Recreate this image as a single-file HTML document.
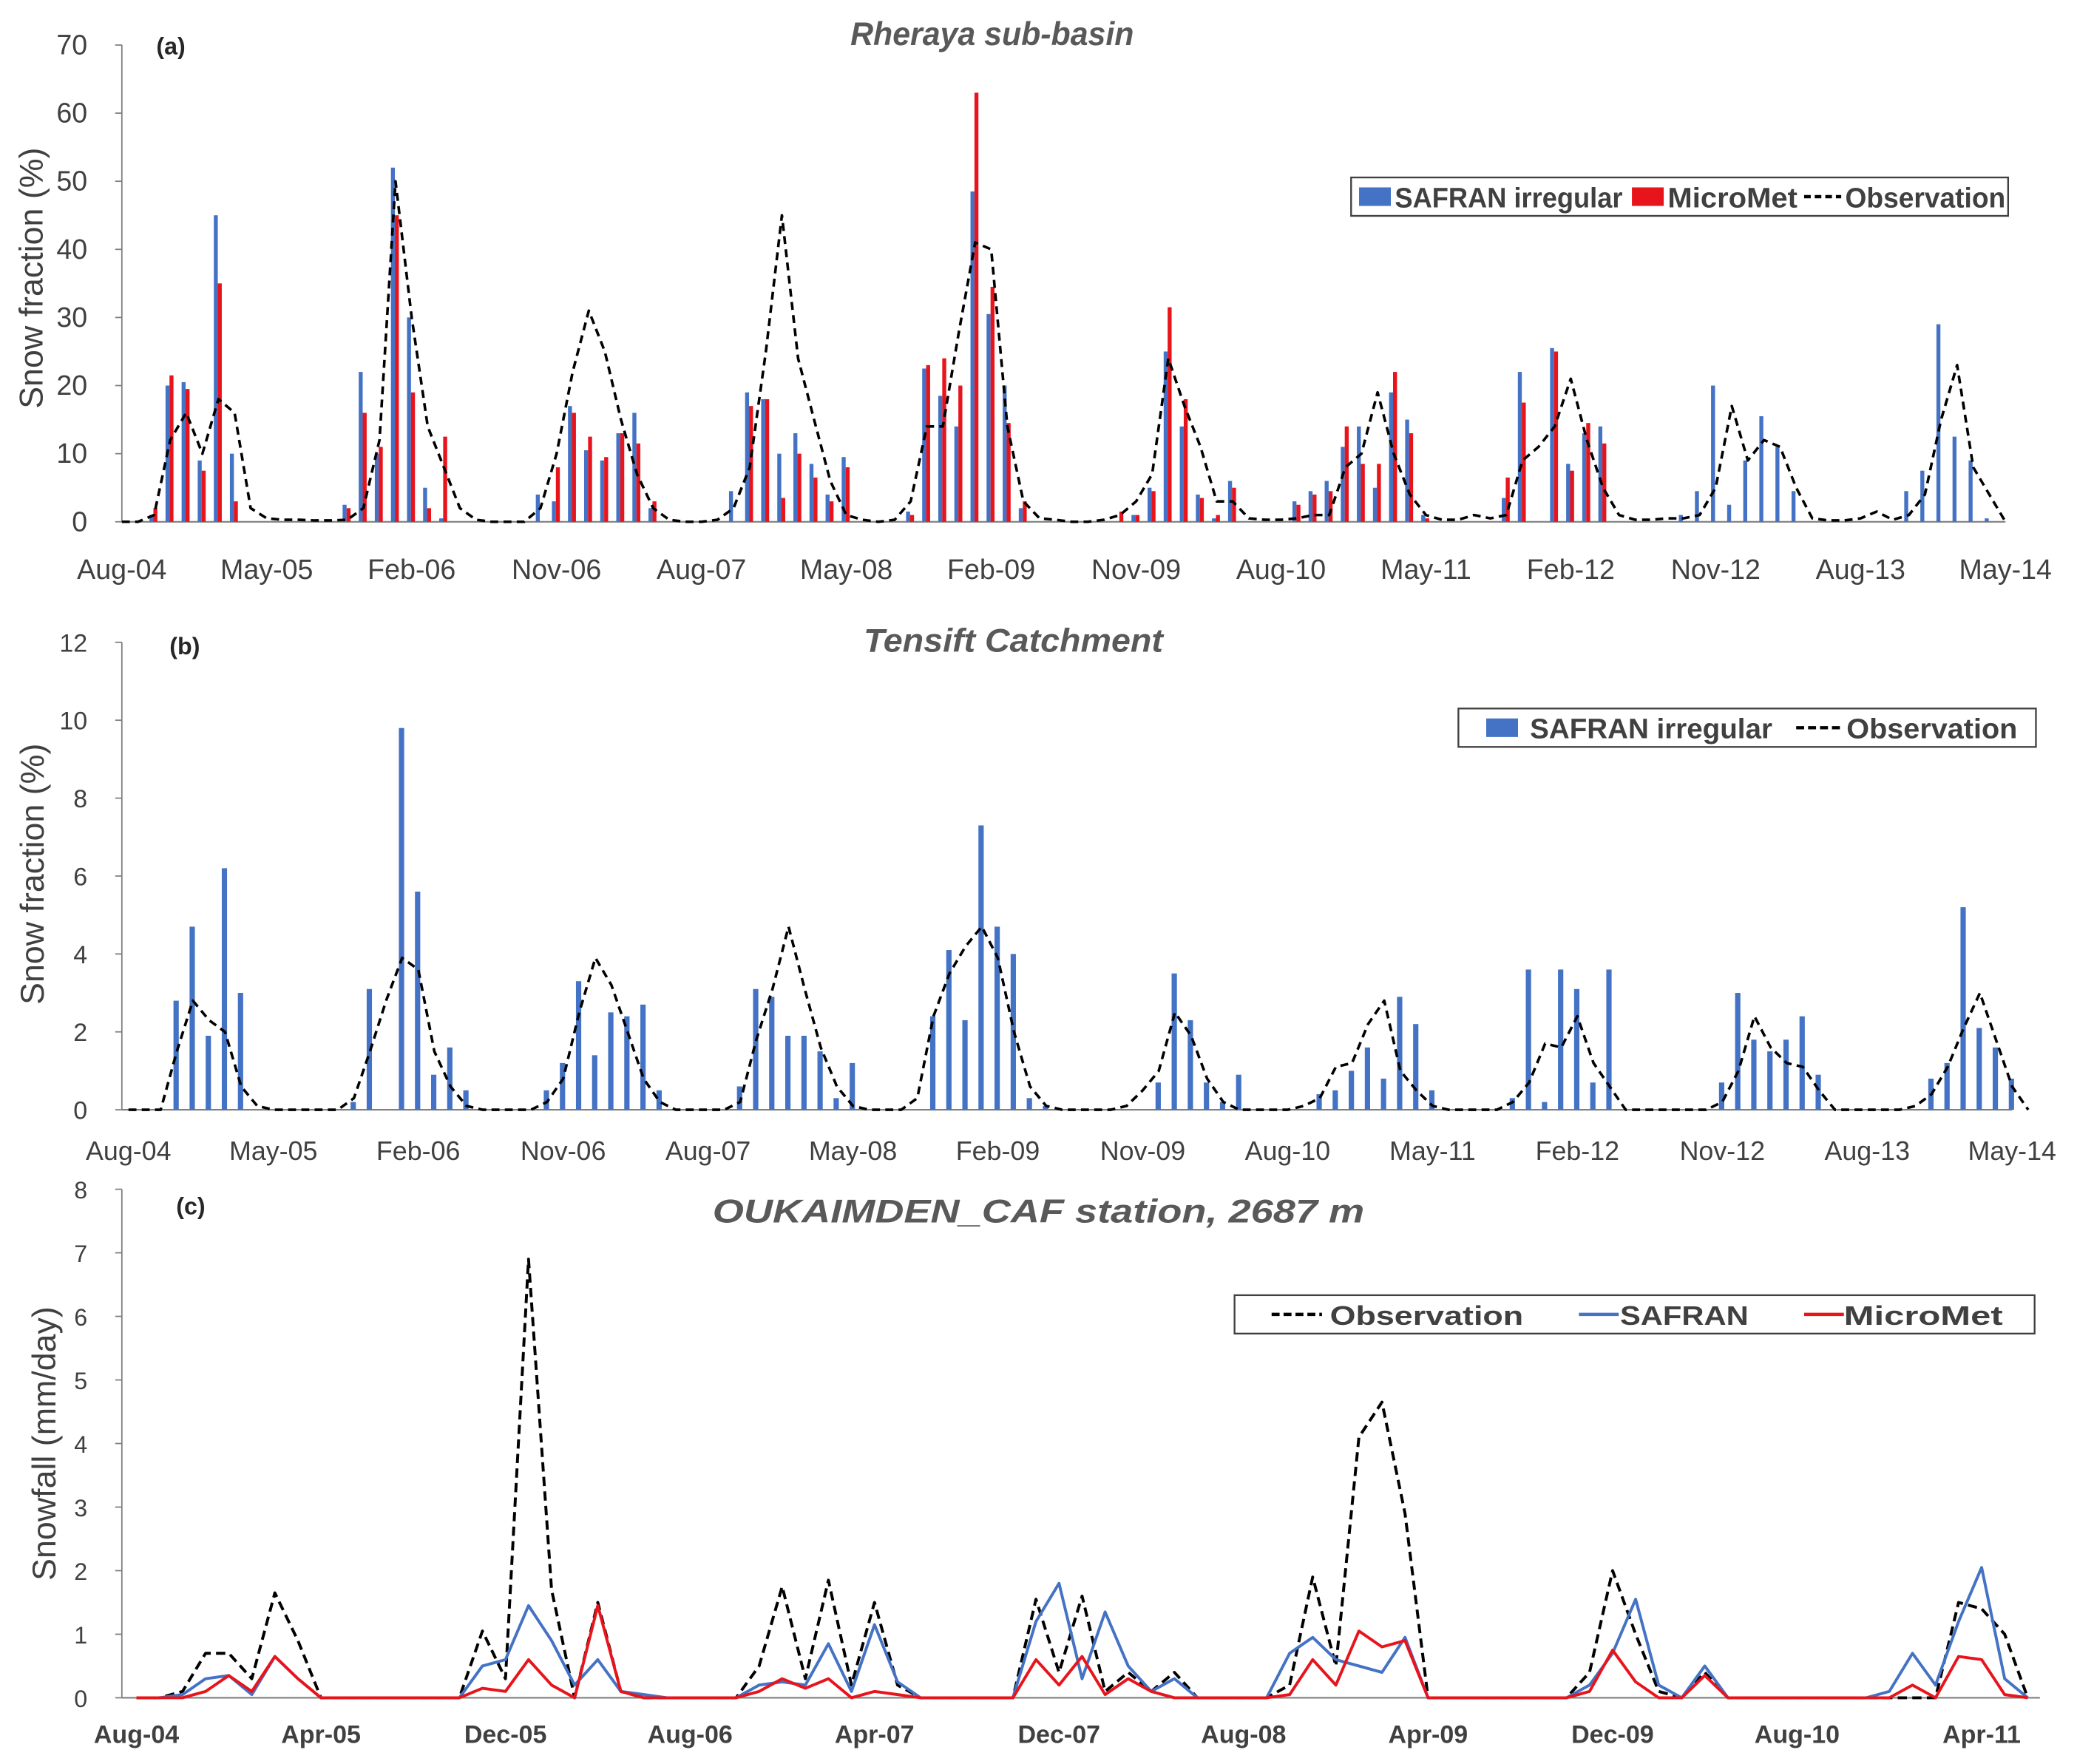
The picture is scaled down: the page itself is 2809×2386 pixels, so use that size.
<!DOCTYPE html>
<html><head><meta charset="utf-8"><style>
html,body{margin:0;padding:0;background:#fff;}
svg{display:block;font-family:"Liberation Sans",sans-serif;}
</style></head><body>
<svg id="chart" width="2809" height="2386" viewBox="0 0 1568 1332" preserveAspectRatio="none" xmlns="http://www.w3.org/2000/svg"></svg>
<script>
// ---------- Panel (a) data (monthly, index 0 = Aug-04) ----------
const labelsA = ["Aug-04","May-05","Feb-06","Nov-06","Aug-07","May-08","Feb-09","Nov-09","Aug-10","May-11","Feb-12","Nov-12","Aug-13","May-14"];
const ticksA = [0,10,20,30,40,50,60,70];
const obsA = [0,0,1,12,16,10,18,16,2,0.5,0.3,0.3,0.2,0.2,
 0.3,2,12,50,30,14,8,2,0.3,0,0,0,
 2,10,22,31,25,15,7,2,0.3,0,0,0.3,
 2,8,25,45,24,15,6,1,0.3,0,0.3,
 3,14,14,28,41,40,14,3,0.5,0.3,0,0,0.3,
 1,3,7,24,17,11,3,3,0.5,0.3,0.3,
 0.5,1,1,8,10,19,10,4,1,0.3,0.3,1,0.5,
 1,9,11,14,21,12,5,1,0.3,0.3,0.5,
 0.5,1,5,17,9,12,11,5,0.5,0.2,0.2,0.5,1.5,0.3,
 1,4,15,23,8,4,0];
const safranA = [0,0,1,20,20.5,9,45,10,0,0,0,0,0,0,
 2.5,22,10,52,30,5,0.5,0,0,0,0,0,
 4,3,17,10.5,9,13,16,2,0,0,0,0,
 4.5,19,18,10,13,8.5,4,9.5,0,0,0,
 1.5,22.5,18.5,14,48.5,30.5,20,2,0,0,0,0,0,
 0,1,5,25,14,4,0.5,6,0,0,0,
 3,4.5,6,11,14,5,19,15,1,0,0,0,0,
 3.5,22,0,25.5,8.5,13,14,0,0,0,0,
 1,4.5,20,2.5,9,15.5,11,4.5,0,0,0,0,0,0,
 4.5,7.5,29,12.5,9,0.5,0];
const microA = [0,0,2,21.5,19.5,7.5,35,3,0,0,0,0,0,0,
 2,16,11,45,19,2,12.5,0,0,0,0,0,
 0,8,16,12.5,9.5,13,11.5,3,0,0,0,0,
 0,17,18,3.5,10,6.5,3,8,0,0,0,
 1,23,24,20,63,34.5,14.5,3,0,0,0,0,0,
 1.5,1,4.5,31.5,18,3.5,1,5,0,0,0,
 2.5,4,4.5,14,8.5,8.5,22,13,0.5,0,0,0,0,
 6.5,17.5,0,25,7.5,14.5,11.5,0,0,0,0,
 0,0,0,0,0,0,0,0,0,0,0,0,0,0,
 0,0,0,0,0,0,0];
// ---------- Panel (b) data ----------
const labelsB = labelsA;
const ticksB = [0,2,4,6,8,10,12];
const obsB = [0,0,0,1.5,2.8,2.3,2,0.6,0.1,0,0,0,0,0,
 0.3,1.5,2.8,3.9,3.6,1.5,0.6,0.1,0,0,0,0,
 0.2,0.8,2.5,3.9,3.2,2,0.8,0.2,0,0,0,0,
 0.2,1.8,3.1,4.7,3.1,1.6,0.6,0.1,0,0,0,
 0.3,2.4,3.5,4.2,4.7,3.9,2,0.6,0.1,0,0,0,0,
 0.1,0.5,1,2.5,1.9,0.8,0.2,0,0,0,0,
 0.1,0.3,1.1,1.2,2.2,2.8,1,0.5,0.1,0,0,0,0,
 0.2,0.7,1.7,1.6,2.4,1.2,0.6,0,0,0,0,
 0,0,0.2,1,2.4,1.6,1.2,1.1,0.5,0,0,0,0,0,
 0.1,0.4,1.1,2.1,3,1.8,0.6,0];
const safranB = [0,0,0,2.8,4.7,1.9,6.2,3,0,0,0,0,0,0,
 0.2,3.1,0,9.8,5.6,0.9,1.6,0.5,0,0,0,0,
 0.5,1.2,3.3,1.4,2.5,2.4,2.7,0.5,0,0,0,0,
 0.6,3.1,2.9,1.9,1.9,1.5,0.3,1.2,0,0,0,
 0,2.4,4.1,2.3,7.3,4.7,4,0.3,0.1,0,0,0,0,
 0,0,0.7,3.5,2.3,0.7,0.2,0.9,0,0,0,
 0,0.4,0.5,1,1.6,0.8,2.9,2.2,0.5,0,0,0,0,
 0.3,3.6,0.2,3.6,3.1,0.7,3.6,0,0,0,0,
 0,0,0.7,3,1.8,1.5,1.8,2.4,0.9,0,0,0,0,0,
 0,0.8,1.2,5.2,2.1,1.6,0.8,0];
// ---------- Panel (c) data (monthly, index 0 = Aug-04) ----------
const labelsC = ["Aug-04","Apr-05","Dec-05","Aug-06","Apr-07","Dec-07","Aug-08","Apr-09","Dec-09","Aug-10","Apr-11"];
const ticksC = [0,1,2,3,4,5,6,7,8];
const obsC = [0,0,0.1,0.7,0.7,0.3,1.65,0.9,0,0,0,0,0,0,
 0,1.05,0.3,6.9,1.7,0,1.5,0.1,0,0,0,0,
 0,0.5,1.75,0.3,1.85,0.2,1.5,0.2,0,0,0,0,
 0,1.55,0.4,1.6,0.1,0.4,0.1,0.4,0,0,0,
 0,0.2,1.9,0.5,4.1,4.65,2.9,0,0,0,0,0,0,
 0,0.4,2,1,0.1,0,0.4,0,0,0,0,0,0,0,
 0,0,0,1.5,1.4,1,0];
const safranC = [0,0,0.05,0.3,0.35,0.05,0.65,0.3,0,0,0,0,0,0,
 0,0.5,0.6,1.45,0.9,0.2,0.6,0.1,0.05,0,0,0,
 0,0.2,0.25,0.2,0.85,0.1,1.15,0.25,0,0,0,0,
 0,1.2,1.8,0.3,1.35,0.5,0.1,0.3,0,0,0,
 0,0.7,0.95,0.6,0.5,0.4,0.95,0,0,0,0,0,0,
 0,0.2,0.7,1.55,0.2,0,0.5,0,0,0,0,0,0,0,
 0.1,0.7,0.2,1.2,2.05,0.3,0];
const microC = [0,0,0,0.1,0.35,0.1,0.65,0.3,0,0,0,0,0,0,
 0,0.15,0.1,0.6,0.2,0,1.45,0.1,0,0,0,0,
 0,0.1,0.3,0.15,0.3,0,0.1,0.05,0,0,0,0,
 0,0.6,0.2,0.65,0.05,0.3,0.1,0,0,0,0,
 0,0.05,0.6,0.2,1.05,0.8,0.9,0,0,0,0,0,0,
 0,0.1,0.75,0.25,0,0,0.35,0,0,0,0,0,0,0,
 0,0.2,0,0.65,0.6,0.05,0];

const NS="http://www.w3.org/2000/svg";
const svg=document.getElementById('chart');
function mk(tag,attrs,parent,text){const e=document.createElementNS(NS,tag);for(const k in attrs)e.setAttribute(k,attrs[k]);if(text!==undefined)e.textContent=text;(parent||svg).appendChild(e);return e;}
const BLUE="#4472C4",RED="#E8141C",AX="#7f7f7f",TXT="#404040";

function panel(cfg){
  const g=mk('g',{});
  
  
  const X=i=>cfg.x0+(cfg.x1-cfg.x0)*i/cfg.nMonths;
  const Y=v=>cfg.y0-(cfg.y0-cfg.yTop)*v/cfg.yMax;
  const ya=mk('line',{x1:cfg.axX,y1:cfg.yTop,x2:cfg.axX,y2:cfg.y0,stroke:AX,'stroke-width':1},g);
  
  const xa=mk('line',{x1:cfg.axX,y1:cfg.y0,x2:cfg.xEnd,y2:cfg.y0,stroke:AX,'stroke-width':1.2},g);
  
  cfg.yticks.forEach(v=>{
    const t=mk('text',{x:cfg.axX-26,y:Y(v)+7,'text-anchor':'end','font-size':cfg.yfs,fill:TXT},g,String(v));
    
    mk('line',{x1:cfg.axX-5,y1:Y(v),x2:cfg.axX,y2:Y(v),stroke:AX},g);
  });
  cfg.xlabels.forEach((l,k)=>{
    const t=mk('text',{x:X(k*cfg.labelStep),y:cfg.xlabY,'text-anchor':'middle','font-size':cfg.xfs,fill:TXT,'font-weight':cfg.xbold?'bold':'normal'},g,l);
    
  });
  (cfg.bars||[]).forEach(b=>{
    b.data.forEach((v,i)=>{
      if(!v)return;
      const r=mk('rect',{x:X(i)+b.off,y:Y(v),width:b.w,height:cfg.y0-Y(v),fill:b.color},g);
      
    });
  });
  (cfg.lines||[]).forEach(ln=>{
    const d=ln.data.map((v,i)=>(i?'L':'M')+X(i).toFixed(1)+' '+Y(v).toFixed(1)).join(' ');
    const p=mk('path',{d:d,fill:'none',stroke:ln.color,'stroke-width':ln.w,'stroke-dasharray':ln.dash||'none','stroke-linejoin':'round'},g);
    
  });
  const tt=mk('text',{x:cfg.titleX,y:cfg.titleY,'text-anchor':'middle','font-size':25,'font-weight':'bold','font-style':'italic',fill:'#595959',textLength:cfg.titleW,lengthAdjust:'spacingAndGlyphs'},g,cfg.title);
  
  const pl=mk('text',{x:cfg.plX,y:cfg.plY,'font-size':18,'font-weight':'bold',fill:'#262626'},g,cfg.pl);
  
  const yt=mk('text',{x:0,y:0,transform:`translate(${cfg.ytX},${cfg.ytY}) rotate(-90)`,'text-anchor':'middle','font-size':25,fill:TXT},g,cfg.ytitle);
  
  const L=cfg.legend;
  const lb=mk('rect',{x:L.x,y:L.y,width:L.w,height:L.h,fill:'#fff',stroke:'#404040','stroke-width':1.3},g);
  
  L.items.forEach(it=>{
    const cy=L.y+L.h/2;
    if(it.type==='bar'){const s=mk('rect',{x:it.x,y:cy-7,width:24,height:14,fill:it.color},g);}
    else {const s=mk('line',{x1:it.x,y1:cy,x2:it.x+it.len,y2:cy,stroke:it.color,'stroke-width':2.5,'stroke-dasharray':it.dash||'none'},g);}
    const t=mk('text',{x:it.tx,y:cy+8,'font-size':L.fs,'font-weight':'bold',fill:TXT,textLength:it.tw,lengthAdjust:'spacingAndGlyphs'},g,it.label);
    
  });
}

panel({name:'panel-a-rheraya',x0:92,x1:1514,nMonths:117,axX:92,xEnd:1514,y0:394,yTop:34,yMax:70,
  yticks:ticksA,yfs:21,xlabels:labelsA,labelStep:9,xlabY:437,xfs:21,
  bars:[{data:safranA,color:BLUE,off:-3.5,w:3,name:'bar-safran'},{data:microA,color:RED,off:-0.5,w:3,name:'bar-micromet'}],
  lines:[{data:obsA,color:'#000',w:2,dash:'6,4',name:'observation-line'}],
  title:'Rheraya sub-basin',titleX:749,titleY:34,titleW:214,pl:'(a)',plX:118,plY:41,
  ytitle:'Snow fraction (%)',ytX:32,ytY:210,
  legend:{x:1020,y:134,w:496,h:29,fs:21,items:[
    {type:'bar',x:1026,color:BLUE,tx:1053,tw:172,label:'SAFRAN irregular'},
    {type:'bar',x:1232,color:RED,tx:1259,tw:98,label:'MicroMet'},
    {type:'line',x:1362,len:28,color:'#000',dash:'5,3',tx:1393,tw:121,label:'Observation'}]}});

panel({name:'panel-b-tensift',x0:97,x1:1519,nMonths:117,axX:92,xEnd:1519,y0:838,yTop:485,yMax:12,
  yticks:ticksB,yfs:19,xlabels:labelsB,labelStep:9,xlabY:876,xfs:20,
  bars:[{data:safranB,color:BLUE,off:-2.5,w:4,name:'bar-safran'}],
  lines:[{data:obsB,color:'#000',w:2,dash:'6,4',name:'observation-line'}],
  title:'Tensift Catchment',titleX:765,titleY:492,titleW:226,pl:'(b)',plX:128,plY:494,
  ytitle:'Snow fraction (%)',ytX:33,ytY:660,
  legend:{x:1101,y:535,w:436,h:29,fs:21,items:[
    {type:'bar',x:1122,color:BLUE,tx:1155,tw:183,label:'SAFRAN irregular'},
    {type:'line',x:1356,len:34,color:'#000',dash:'6,3',tx:1394,tw:129,label:'Observation'}]}});

panel({name:'panel-c-oukaimden',x0:103,x1:1496,nMonths:80,axX:92,xEnd:1540,y0:1282,yTop:898,yMax:8,
  yticks:ticksC,yfs:18,xlabels:labelsC,labelStep:8,xlabY:1316,xfs:19,xbold:true,
  lines:[{data:obsC,color:'#000',w:2.2,dash:'7,4',name:'observation-line'},
         {data:safranC,color:BLUE,w:2.2,name:'safran-line'},
         {data:microC,color:RED,w:2.2,name:'micromet-line'}],
  title:'OUKAIMDEN_CAF station, 2687 m',titleX:784,titleY:923,titleW:492,pl:'(c)',plX:133,plY:917,
  ytitle:'Snowfall (mm/day)',ytX:42,ytY:1090,
  legend:{x:932,y:978,w:604,h:29,fs:20,items:[
    {type:'line',x:960,len:38,color:'#000',dash:'6,3',tx:1004,tw:146,label:'Observation'},
    {type:'line',x:1192,len:30,color:BLUE,tx:1223,tw:97,label:'SAFRAN'},
    {type:'line',x:1362,len:30,color:RED,tx:1392,tw:120,label:'MicroMet'}]}});
</script>
</body></html>
